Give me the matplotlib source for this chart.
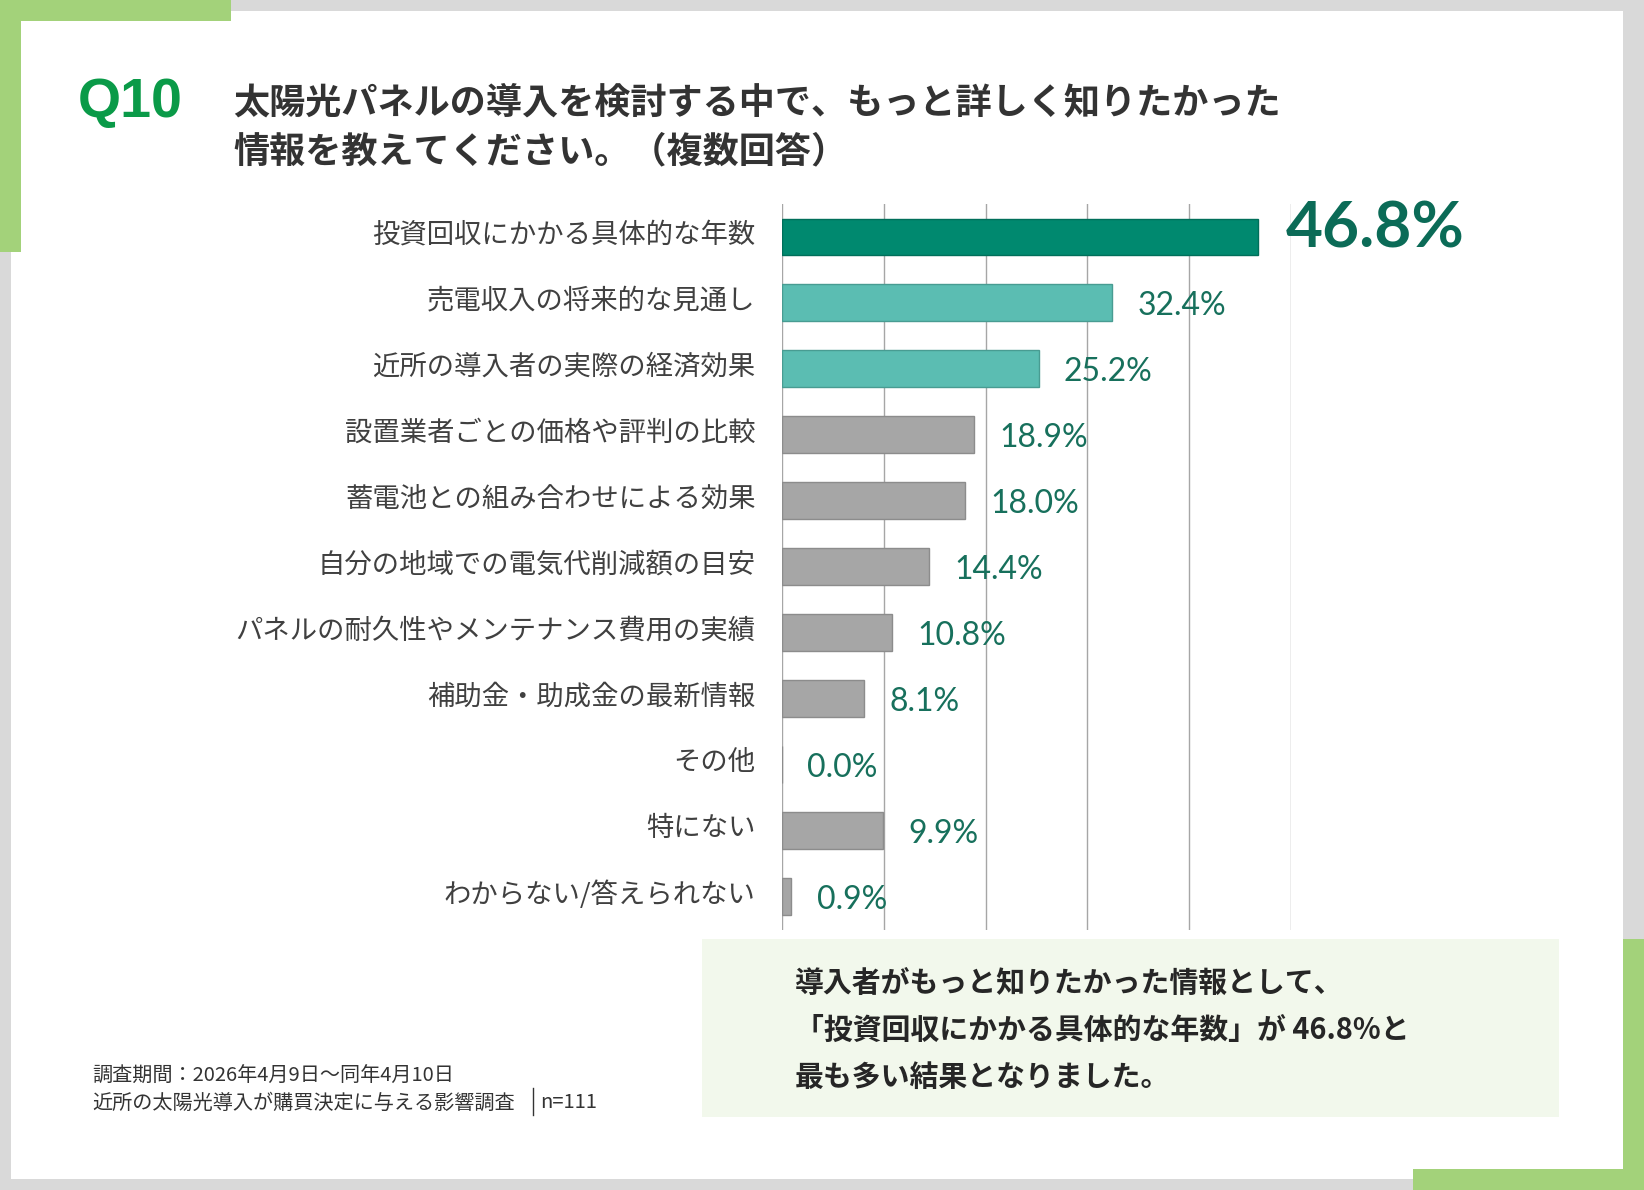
import matplotlib.pyplot as plt
from matplotlib.patches import Rectangle
from matplotlib.transforms import ScaledTranslation

plt.rcParams['font.family'] = ['Noto Sans CJK JP', 'DejaVu Sans']

# データ
categories = [
    "投資回収にかかる具体的な年数",
    "売電収入の将来的な見通し",
    "近所の導入者の実際の経済効果",
    "設置業者ごとの価格や評判の比較",
    "蓄電池との組み合わせによる効果",
    "自分の地域での電気代削減額の目安",
    "パネルの耐久性やメンテナンス費用の実績",
    "補助金・助成金の最新情報",
    "その他",
    "特にない",
    "わからない/答えられない",
]
values = [46.8, 32.4, 25.2, 18.9, 18.0, 14.4, 10.8, 8.1, 0.0, 9.9, 0.9]
bar_colors = ["#00896f", "#5bbdb2", "#5bbdb2"] + ["#a6a6a6"] * 8
edge_colors = ["#006f5a", "#489c92", "#489c92"] + ["#8c8c8c"] * 8

title_q = "Q10"
title_lines = ["太陽光パネルの導入を検討する中で、もっと詳しく知りたかった",
               "情報を教えてください。（複数回答）"]
note_lines = ["導入者がもっと知りたかった情報として、",
              "「投資回収にかかる具体的な年数」が 46.8%と",
              "最も多い結果となりました。"]
footer_lines = ["調査期間：2026年4月9日～同年4月10日",
                "近所の太陽光導入が購買決定に与える影響調査"]
footer_n = "n=111"

W, H = 1644, 1190
fig = plt.figure(figsize=(W / 100, H / 100), dpi=100)
fig.patch.set_facecolor("#d9d9d9")

def px_rect(x0, y0, x1, y1, color, z=0):
    # 画素座標(左上原点)で矩形を描く
    fig.patches.append(Rectangle((x0 / W, 1 - y1 / H), (x1 - x0) / W, (y1 - y0) / H,
                                 transform=fig.transFigure, facecolor=color,
                                 edgecolor="none", zorder=z))

green = "#a3d27a"
px_rect(10.5, 10.5, 1623, 1179, "white", -3)
px_rect(0, 0, 231, 21, green, -2)
px_rect(0, 0, 21, 252, green, -2)
px_rect(1623, 939, 1644, 1190, green, -2)
px_rect(1413, 1169, 1644, 1190, green, -2)
px_rect(702, 939, 1559, 1117, "#f2f8ec", -2)

# タイトル
fig.text(78 / W, 1 - 103 / H, title_q, fontsize=40, fontweight="bold", color="#0a9a48",
         family=["Liberation Sans", "DejaVu Sans"], va="center", ha="left")
for i, line in enumerate(title_lines):
    fig.text(233 / W, 1 - (103 + 49 * i) / H, line, fontsize=26, fontweight="bold",
             color="#333333", va="center", ha="left")

# グラフ
ax = fig.add_axes([782 / W, 1 - 929.5 / H, (1291 - 782) / W, (929.5 - 204) / H])
ax.set_zorder(5)
ax.set_facecolor("none")
y = list(range(len(categories)))
ax.barh(y, values, height=0.56, color=bar_colors, edgecolor=edge_colors, linewidth=1, zorder=3)
ax.set_xlim(0, 50)
ax.set_ylim(len(categories) - 0.5, -0.5)
ax.set_xticks([0, 10, 20, 30, 40, 50])
ax.xaxis.grid(True, color="#a6a6a6", linewidth=1, zorder=0)
ax.set_axisbelow(True)
ax.tick_params(axis="x", length=0, labelbottom=False)
ax.tick_params(axis="y", length=0, pad=19)
ax.set_yticks(y)
ax.set_yticklabels(categories, fontsize=19.7, color="#404040")
lift = ScaledTranslation(0, 5 / 100, fig.dpi_scale_trans)
for lab in ax.get_yticklabels():
    lab.set_transform(lab.get_transform() + lift)
for s in ax.spines.values():
    s.set_visible(False)

for i, v in enumerate(values):
    if i == 0:
        ax.text(v + 2.7, i - 0.12, f"{v:.1f}%", fontsize=46, fontweight="bold",
                color="#0b6b57", family=["Lato", "DejaVu Sans"], va="center", ha="left", zorder=4)
    else:
        ax.text(v + 2.5, i + 0.05, f"{v:.1f}%", fontsize=23, color="#17705c",
                family=["Lato", "DejaVu Sans"], va="center", ha="left", zorder=4)

# 注記
for i, line in enumerate(note_lines):
    fig.text(795 / W, 1 - (983 + 47 * i) / H, line, fontsize=20.8, fontweight="bold",
             color="#262626", va="center", ha="left", zorder=3)

# フッター
fig.text(92 / W, 1 - 1076 / H, footer_lines[0], fontsize=14.5, color="#333333",
         va="center", ha="left")
fig.text(92 / W, 1 - 1103 / H, footer_lines[1], fontsize=14.5, color="#333333",
         va="center", ha="left")
fig.add_artist(plt.Line2D([533 / W, 533 / W], [1 - 1088 / H, 1 - 1115 / H],
                          transform=fig.transFigure, color="#333333", linewidth=1))
fig.text(540 / W, 1 - 1103 / H, footer_n, fontsize=14.5, color="#333333",
         va="center", ha="left")

fig.savefig("out.png", dpi=100, facecolor=fig.get_facecolor())
